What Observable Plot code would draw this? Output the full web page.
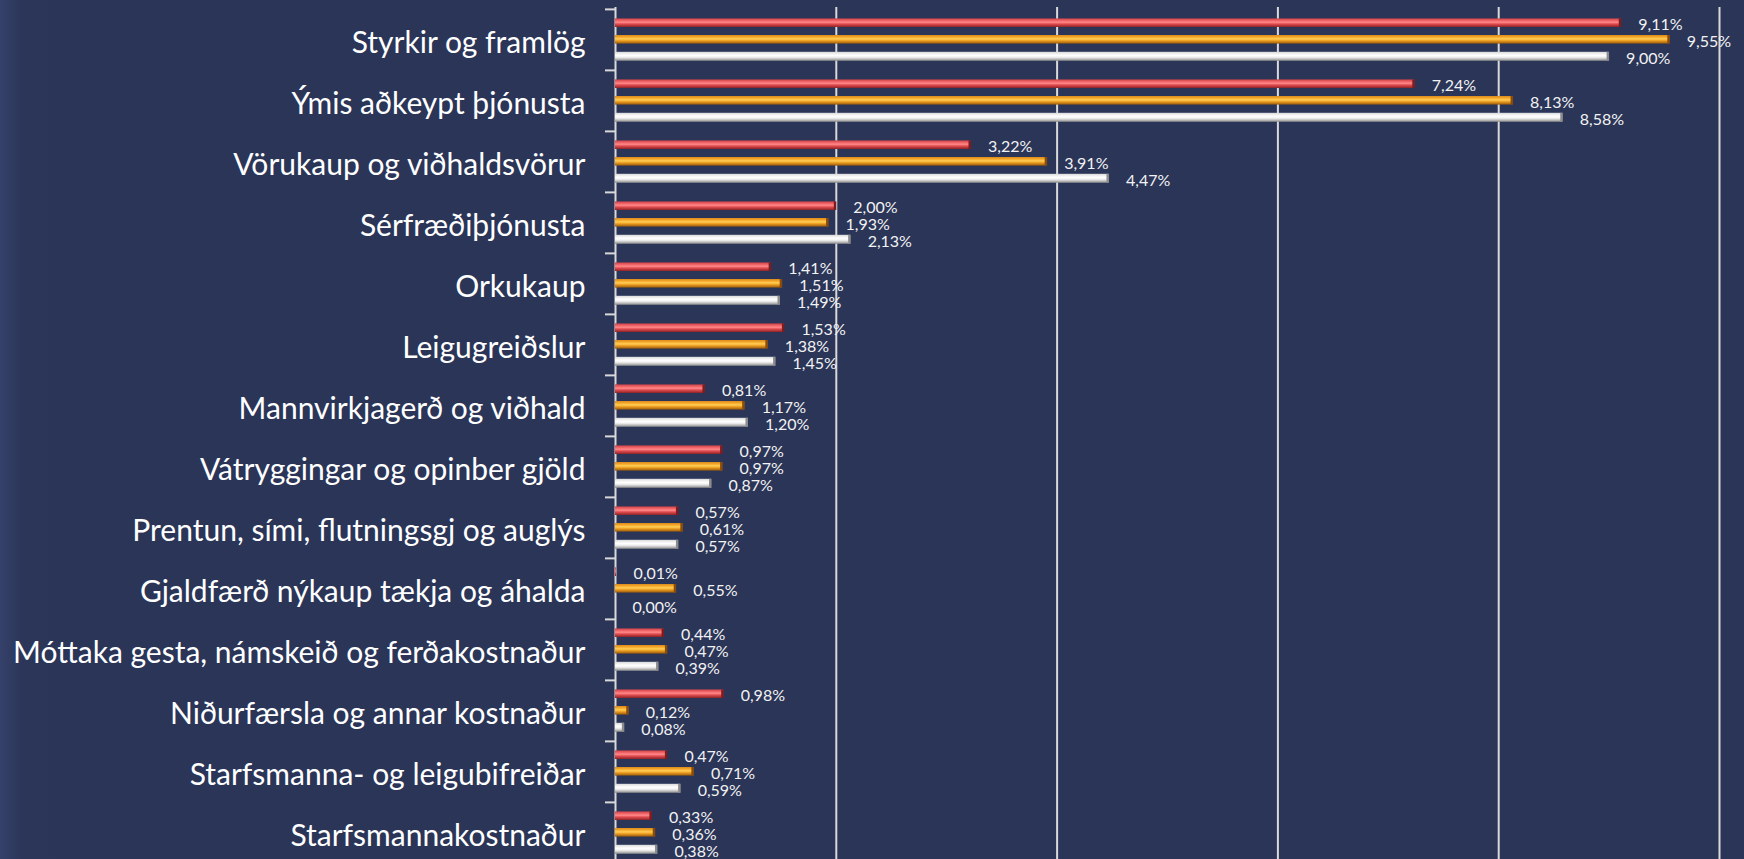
<!DOCTYPE html>
<html>
<head>
<meta charset="utf-8">
<script src="https://cdn.jsdelivr.net/npm/d3@7"></script>
<script src="https://cdn.jsdelivr.net/npm/@observablehq/plot@0.6"></script>
<style>
  html, body { margin: 0; padding: 0; }
  body {
    width: 1744px; height: 859px; overflow: hidden;
    background: linear-gradient(to right, #35416a 0px, #2b3659 22px, #2a3558 60px);
  }
  #chart svg { display: block; }
</style>
</head>
<body>
<div id="chart"></div>
<script>
// ---- data ----
const categories = [
  "Styrkir og framlög",
  "Ýmis aðkeypt þjónusta",
  "Vörukaup og viðhaldsvörur",
  "Sérfræðiþjónusta",
  "Orkukaup",
  "Leigugreiðslur",
  "Mannvirkjagerð og viðhald",
  "Vátryggingar og opinber gjöld",
  "Prentun, sími, flutningsgj og auglýs",
  "Gjaldfærð nýkaup tækja og áhalda",
  "Móttaka gesta, námskeið og ferðakostnaður",
  "Niðurfærsla og annar kostnaður",
  "Starfsmanna- og leigubifreiðar",
  "Starfsmannakostnaður"
];
const seriesRed    = [9.11, 7.24, 3.22, 2.00, 1.41, 1.53, 0.81, 0.97, 0.57, 0.01, 0.44, 0.98, 0.47, 0.33];
const seriesOrange = [9.55, 8.13, 3.91, 1.93, 1.51, 1.38, 1.17, 0.97, 0.61, 0.55, 0.47, 0.12, 0.71, 0.36];
const seriesWhite  = [9.00, 8.58, 4.47, 2.13, 1.49, 1.45, 1.20, 0.87, 0.57, 0.00, 0.39, 0.08, 0.59, 0.38];
const xGridTicks = [2, 4, 6, 8, 10];

// ---- build ----
const rows = categories.map((c, i) => ({category: c, red: seriesRed[i], orange: seriesOrange[i], white: seriesWhite[i]}));
const fmt = v => d3.format(".2f")(v).replace(".", ",") + "%";

const bandTop = 7, bandBottom = 864;
const bw = (bandBottom - bandTop) / categories.length;

const series = [
  {key: "red",    fill: "url(#gRed)",    cap: "#7d1c1f", top: 9.4,  thick: 8.8},
  {key: "orange", fill: "url(#gOrange)", cap: "#8a4a08", top: 26.0, thick: 8.8},
  {key: "white",  fill: "url(#gWhite)",  cap: "#8c8c8c", top: 42.8, thick: 9.2}
];

const marks = [
  Plot.ruleX(xGridTicks, {stroke: "#d9d9d9", strokeWidth: 2}),
  Plot.ruleX([0], {stroke: "#d9d9d9", strokeWidth: 2}),
  Plot.ruleY(categories, {y: d => d, x1: 0, x2: 0, insetLeft: -10, dy: -bw / 2, stroke: "#d9d9d9", strokeWidth: 2})
];
for (const s of series) {
  const insetTop = s.top, insetBottom = bw - s.top - s.thick;
  marks.push(Plot.barX(rows, {x: s.key, y: "category", fill: s.fill, insetTop, insetBottom}));
  marks.push(Plot.tickX(rows.filter(d => d[s.key] >= 0.05), {x: s.key, y: "category", stroke: s.cap, strokeWidth: 2.5, dx: -1.25, insetTop, insetBottom}));
  marks.push(Plot.text(rows, {
    x: s.key, y: "category", text: d => fmt(d[s.key]),
    dx: 17, dy: s.top + s.thick / 2 - bw / 2 + 2,
    textAnchor: "start", fill: "#f2f2f2", fontSize: 16
  }));
}
marks.push(Plot.text(categories, {
  x: 0, y: d => d, text: d => d, textAnchor: "end", dx: -30, dy: 3,
  fill: "#ffffff", fontSize: 30
}));

const chart = Plot.plot({
  width: 1744,
  height: 859,
  marginLeft: 615,
  marginRight: 25,
  marginTop: 7,
  marginBottom: 0,
  x: {domain: [0, 10], range: [615, 1719], axis: null},
  y: {domain: categories, range: [bandTop, bandBottom], padding: 0, axis: null},
  style: {background: "transparent", color: "#ffffff", fontFamily: "Lato, 'Open Sans', sans-serif", overflow: "hidden"},
  marks
});

// gradients for the glossy 3D bar look
const ns = "http://www.w3.org/2000/svg";
const defs = document.createElementNS(ns, "defs");
const grads = {
  gRed:    [[0, "#c94247"], [0.25, "#f06366"], [0.45, "#ff8a8a"], [0.65, "#e24c50"], [1, "#8e2327"]],
  gOrange: [[0, "#d98a1c"], [0.25, "#f7a92a"], [0.45, "#ffd05a"], [0.65, "#eea022"], [1, "#9a5a0c"]],
  gWhite:  [[0, "#d8d8d8"], [0.25, "#f4f4f4"], [0.45, "#ffffff"], [0.65, "#e6e6e6"], [1, "#8a8a8a"]]
};
for (const [id, stops] of Object.entries(grads)) {
  const g = document.createElementNS(ns, "linearGradient");
  g.setAttribute("id", id);
  g.setAttribute("x1", "0"); g.setAttribute("y1", "0");
  g.setAttribute("x2", "0"); g.setAttribute("y2", "1");
  for (const [o, c] of stops) {
    const st = document.createElementNS(ns, "stop");
    st.setAttribute("offset", o);
    st.setAttribute("stop-color", c);
    g.appendChild(st);
  }
  defs.appendChild(g);
}
chart.insertBefore(defs, chart.firstChild);
document.getElementById("chart").appendChild(chart);
</script>
</body>
</html>
